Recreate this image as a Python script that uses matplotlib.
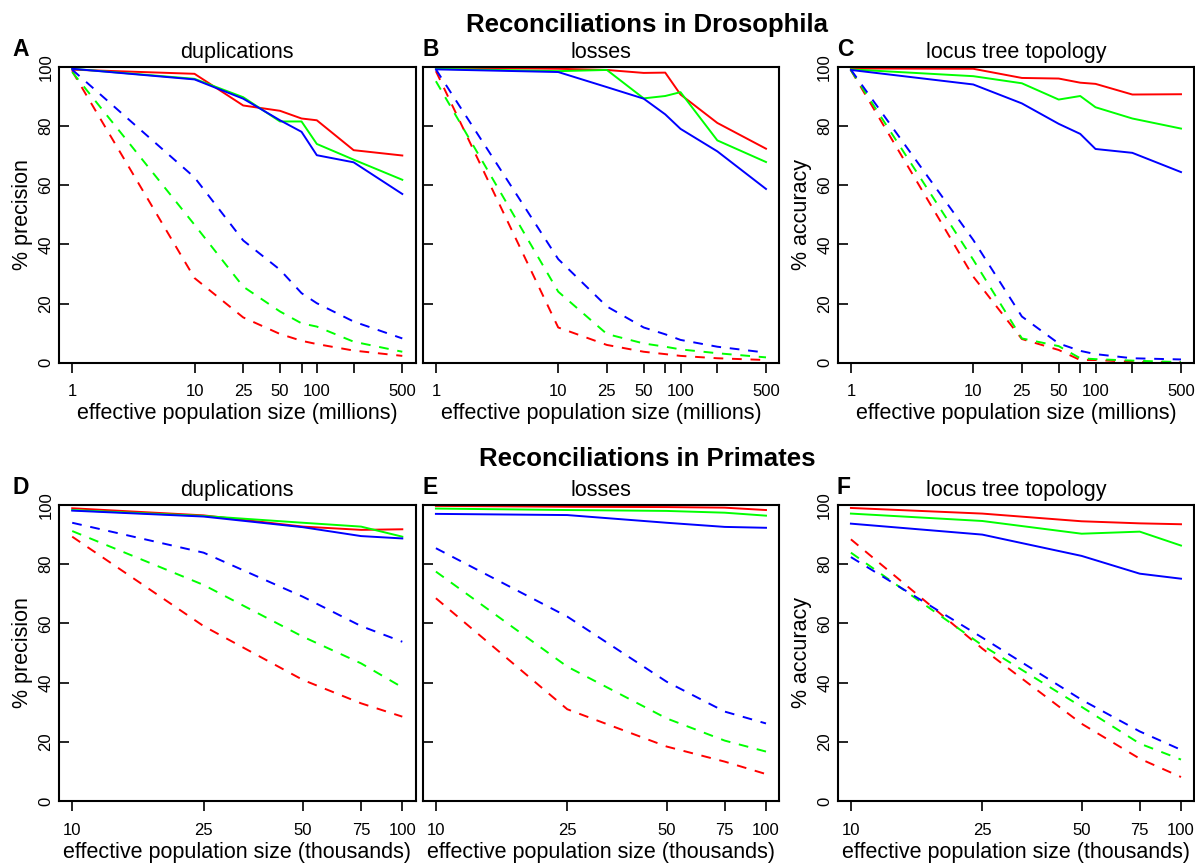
import numpy as np
import matplotlib
matplotlib.use("Agg")
import matplotlib.pyplot as plt
from matplotlib.ticker import FixedLocator, FixedFormatter, NullLocator

plt.rcParams['font.family'] = ['Liberation Sans', 'DejaVu Sans']

# effective population sizes
x_dros = [1, 10, 25, 50, 75, 100, 200, 500]
x_prim = [10, 25, 50, 75, 100]
xt_dros_labels = ["1", "10", "25", "50", "", "100", "", "500"]
xt_prim_labels = ["10", "25", "50", "75", "100"]

# Drosophila: duplications (solid / dashed for red, green, blue)
dA_red = [99.0, 97.6, 86.9, 85.1, 82.5, 81.9, 71.8, 70.0]
dA_green = [99.3, 95.9, 89.7, 81.5, 81.5, 73.9, 68.6, 61.8]
dA_blue = [99.3, 95.7, 89.2, 81.9, 78.0, 70.1, 67.7, 57.0]
dA_red_d = [98.5, 28.6, 15.3, 9.7, 7.4, 6.3, 4.1, 2.3]
dA_green_d = [98.2, 46.6, 25.7, 17.3, 13.3, 12.2, 7.1, 3.7]
dA_blue_d = [99.0, 62.6, 41.3, 31.4, 23.5, 20.1, 13.9, 8.2]

# Drosophila: losses
dB_red = [99.7, 99.3, 98.9, 97.9, 98.0, 90.6, 81.0, 72.3]
dB_green = [99.3, 98.5, 98.9, 89.3, 90.1, 91.4, 75.1, 67.8]
dB_blue = [99.1, 98.2, 93.1, 89.2, 83.9, 79.0, 71.4, 58.7]
dB_red_d = [98.5, 11.9, 6.0, 3.7, 2.9, 2.3, 1.5, 0.9]
dB_green_d = [95.1, 24.0, 9.7, 6.5, 5.4, 4.5, 3.2, 1.8]
dB_blue_d = [99.1, 35.0, 19.0, 11.9, 9.6, 7.7, 5.4, 3.4]

# Drosophila: locus tree topology
dC_red = [99.4, 99.3, 96.2, 96.0, 94.6, 94.2, 90.6, 90.7]
dC_green = [99.1, 96.8, 94.4, 88.9, 90.1, 86.3, 82.5, 79.1]
dC_blue = [98.9, 94.0, 87.6, 80.7, 77.3, 72.2, 70.9, 64.4]
dC_red_d = [98.8, 29.1, 8.0, 4.3, 0.9, 0.9, 0.3, 0.1]
dC_green_d = [98.8, 34.8, 8.2, 5.6, 1.5, 1.2, 0.7, 0.2]
dC_blue_d = [99.0, 41.5, 15.6, 6.5, 4.0, 2.9, 1.5, 1.1]

# Primates: duplications
pD_red = [98.9, 96.5, 92.7, 91.6, 91.8]
pD_green = [98.3, 96.3, 94.0, 92.7, 89.3]
pD_blue = [98.1, 96.1, 92.5, 89.5, 88.7]
pD_red_d = [89.3, 59.1, 40.9, 33.0, 28.5]
pD_green_d = [91.2, 73.0, 55.5, 46.5, 38.4]
pD_blue_d = [94.0, 83.9, 69.0, 59.1, 53.8]

# Primates: losses
pE_red = [99.7, 99.4, 99.3, 99.1, 98.3]
pE_green = [98.8, 98.3, 98.0, 97.4, 96.4]
pE_blue = [97.0, 96.6, 94.0, 92.6, 92.3]
pE_red_d = [68.5, 31.0, 18.4, 13.3, 9.1]
pE_green_d = [77.5, 45.4, 27.9, 20.4, 16.7]
pE_blue_d = [85.4, 62.3, 40.3, 30.2, 26.2]

# Primates: locus tree topology
pF_red = [99.0, 97.1, 94.5, 93.8, 93.5]
pF_green = [97.1, 94.6, 90.3, 91.0, 86.3]
pF_blue = [93.7, 90.0, 82.8, 76.8, 75.1]
pF_red_d = [88.4, 51.5, 26.1, 14.3, 8.1]
pF_green_d = [83.9, 52.6, 31.8, 19.4, 14.0]
pF_blue_d = [82.4, 55.2, 34.2, 23.5, 17.3]

W, H = 1195, 865
fig = plt.figure(figsize=(W / 100, H / 100), dpi=100)

lefts = [59, 422.7, 837.7]
letter_x = [12, 423, 837]
aw, ah = 356.5, 296
row_top = [66.7, 505]
colors = ['#ff0000', '#00ff00', '#0000ff']

panels = [
    (0, 0, "A", "duplications", "% precision", x_dros, xt_dros_labels, "effective population size (millions)",
     [dA_red, dA_green, dA_blue], [dA_red_d, dA_green_d, dA_blue_d]),
    (0, 1, "B", "losses", None, x_dros, xt_dros_labels, "effective population size (millions)",
     [dB_red, dB_green, dB_blue], [dB_red_d, dB_green_d, dB_blue_d]),
    (0, 2, "C", "locus tree topology", "% accuracy", x_dros, xt_dros_labels, "effective population size (millions)",
     [dC_red, dC_green, dC_blue], [dC_red_d, dC_green_d, dC_blue_d]),
    (1, 0, "D", "duplications", "% precision", x_prim, xt_prim_labels, "effective population size (thousands)",
     [pD_red, pD_green, pD_blue], [pD_red_d, pD_green_d, pD_blue_d]),
    (1, 1, "E", "losses", None, x_prim, xt_prim_labels, "effective population size (thousands)",
     [pE_red, pE_green, pE_blue], [pE_red_d, pE_green_d, pE_blue_d]),
    (1, 2, "F", "locus tree topology", "% accuracy", x_prim, xt_prim_labels, "effective population size (thousands)",
     [pF_red, pF_green, pF_blue], [pF_red_d, pF_green_d, pF_blue_d]),
]

for row, col, letter, sub, ylab, xs, xlabels, xlab, solid, dashed in panels:
    top = row_top[row]
    ax = fig.add_axes([lefts[col] / W, 1 - (top + ah) / H, aw / W, ah / H])
    for c, ys in zip(colors, solid):
        ax.plot(xs, ys, color=c, lw=1.4)
    for c, ys in zip(colors, dashed):
        ax.plot(xs, ys, color=c, lw=1.4, dashes=(5, 4.5))

    ax.set_xscale('log')
    lo, hi = np.log10(xs[0]), np.log10(xs[-1])
    pad = 0.04 * (hi - lo)
    ax.set_xlim(10 ** (lo - pad), 10 ** (hi + pad))
    ax.set_ylim(0, 100)
    ax.xaxis.set_major_locator(FixedLocator(xs))
    ax.xaxis.set_major_formatter(FixedFormatter(xlabels))
    ax.xaxis.set_minor_locator(NullLocator())
    ax.set_yticks([0, 20, 40, 60, 80, 100])

    for s in ax.spines.values():
        s.set_linewidth(1.5)
    ax.tick_params(axis='x', direction='out', length=7.5, width=1.2, labelsize=12, pad=8)
    ax.tick_params(axis='y', direction='in', length=7.5, width=1.2, labelsize=12, pad=4,
                   labelrotation=90)
    for t in ax.get_yticklabels():
        t.set_va('center')
    if ylab is None:
        ax.set_yticklabels([])
    else:
        ax.set_ylabel(ylab, fontsize=15.5, labelpad=4)
    ax.set_xlabel(xlab, fontsize=15.5, labelpad=3)
    ax.set_title(sub, fontsize=15.5, pad=6.5)

    fig.text(letter_x[col] / W, 1 - (top - 10.5) / H, letter, fontsize=16.5, fontweight='bold',
             ha='left', va='baseline')

fig.text(647 / W, 1 - 32 / H, "Reconciliations in Drosophila", fontsize=18.5, fontweight='bold',
         ha='center', va='baseline')
fig.text(647 / W, 1 - 465.7 / H, "Reconciliations in Primates", fontsize=18.5, fontweight='bold',
         ha='center', va='baseline')

fig.savefig("out.png", dpi=100)
